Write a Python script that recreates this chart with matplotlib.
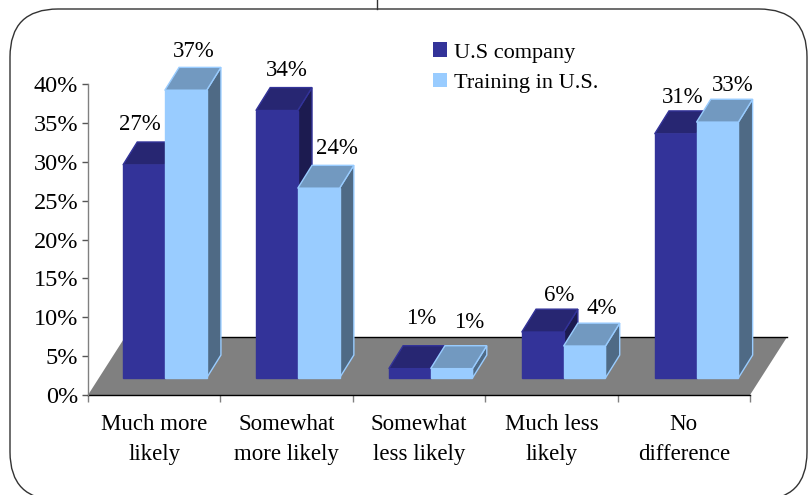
"""Grouped pseudo 3D bars, company vs training in the U.S."""

import matplotlib

matplotlib.use("Agg")
import matplotlib.pyplot as plt
from matplotlib.patches import FancyBboxPatch, Polygon, Patch

CATEGORIES = [
    "Much more\nlikely",
    "Somewhat\nmore likely",
    "Somewhat\nless likely",
    "Much less\nlikely",
    "No\ndifference",
]
# labels show them rounded
US_COMPANY = [27.4, 34.4, 1.2, 5.9, 31.4]
TRAINING_US = [37.0, 24.4, 1.2, 4.1, 32.9]
SERIES_NAMES = ["U.S company", "Training in U.S."]
Y_TICKS = [0, 5, 10, 15, 20, 25, 30, 35, 40]

W, H = 810, 495
AX_LEFT, AX_RIGHT, AX_BOTTOM, AX_TOP = 88, 750, 395, 84

# fake depth, category units / percent units
DEPTH_X = 0.108
DEPTH_Y = 2.95
BASE_Y = 2.19
BAR_START = 0.264
BAR_PITCH = 1.004
BAR_WIDTH = 0.316
FLOOR_X = 0.28
FLOOR_Y = 7.46

DARK = {"front": "#333399", "top": "#272672", "side": "#1c1b50", "edge": "#333399"}
LIGHT = {"front": "#99ccff", "top": "#7299c0", "side": "#4f6a85", "edge": "#99ccff"}

# label nudges from the bar's front-top centre, pixels
LABEL_DX = [[-4, 10, 11, 17, 7], [8, 18, 18, 17, 15]]
LABEL_DY = [[40, 40, 50, 37, 36], [39, 40, 46, 38, 37]]

SERIF = "Liberation Serif"
FONT_SIZE = 16
NUMBER_SIZE = 16.5
TICK_SIZE = 17.5


def draw_bar(ax, x, value, colors):
    """Draw one box: side, top, then front"""
    x0, x1 = x, x + BAR_WIDTH
    y0, y1 = BASE_Y, BASE_Y + value
    side = [(x1, y0), (x1 + DEPTH_X, y0 + DEPTH_Y), (x1 + DEPTH_X, y1 + DEPTH_Y), (x1, y1)]
    top = [(x0, y1), (x0 + DEPTH_X, y1 + DEPTH_Y), (x1 + DEPTH_X, y1 + DEPTH_Y), (x1, y1)]
    front = [(x0, y0), (x1, y0), (x1, y1), (x0, y1)]
    for points, face in [(side, colors["side"]), (top, colors["top"]), (front, colors["front"])]:
        ax.add_patch(
            Polygon(points, closed=True, facecolor=face, edgecolor=colors["edge"],
                    linewidth=1.0, joinstyle="miter", zorder=3, clip_on=False)
        )


def draw_frame(fig):
    """Rounded outer box and the small stub above it"""
    bg = fig.add_axes([0, 0, 1, 1], zorder=0)
    bg.set_xlim(0, W)
    bg.set_ylim(H, 0)
    bg.axis("off")
    bg.add_patch(
        FancyBboxPatch((58, 57), 701, 395, boxstyle="round,pad=48,rounding_size=48",
                       facecolor="white", edgecolor="#333333", linewidth=1.0)
    )
    bg.plot([377, 377], [0, 9], color="#333333", linewidth=1.0)


def main():
    plt.rcParams["font.family"] = [SERIF, "DejaVu Serif"]
    fig = plt.figure(figsize=(W / 100, H / 100), dpi=100, facecolor="white")
    draw_frame(fig)

    ax = fig.add_axes([AX_LEFT / W, 1 - AX_BOTTOM / H,
                       (AX_RIGHT - AX_LEFT) / W, (AX_BOTTOM - AX_TOP) / H], zorder=1)
    ax.patch.set_alpha(0)
    ax.set_xlim(0, len(CATEGORIES))
    ax.set_ylim(0, 40)

    # floor
    n = len(CATEGORIES)
    ax.add_patch(
        Polygon([(0, 0), (n, 0), (n + FLOOR_X, FLOOR_Y), (FLOOR_X, FLOOR_Y)],
                closed=True, facecolor="#808080", edgecolor="none", zorder=1, clip_on=False)
    )
    ax.plot([FLOOR_X, n + FLOOR_X], [FLOOR_Y, FLOOR_Y], color="black", linewidth=1.0,
            zorder=2, clip_on=False)

    for i in range(n):
        for s, (values, colors) in enumerate([(US_COMPANY, DARK), (TRAINING_US, LIGHT)]):
            x = i * BAR_PITCH + BAR_START + s * BAR_WIDTH
            draw_bar(ax, x, values[i], colors)
            ax.annotate(
                f"{values[i]:.0f}%",
                xy=(x + BAR_WIDTH / 2, BASE_Y + values[i]),
                xytext=(LABEL_DX[s][i], LABEL_DY[s][i]),
                textcoords="offset pixels",
                ha="center", va="center", fontsize=NUMBER_SIZE, color="black",
                zorder=5, annotation_clip=False,
            )

    for name in ["top", "right"]:
        ax.spines[name].set_visible(False)
    ax.spines["left"].set_color("#808080")
    ax.spines["left"].set_linewidth(1.0)
    ax.spines["bottom"].set_color("black")
    ax.spines["bottom"].set_linewidth(1.0)
    ax.spines["bottom"].set_zorder(2)

    ax.set_yticks(Y_TICKS)
    ax.set_yticklabels([f"{v}%" for v in Y_TICKS], fontsize=TICK_SIZE)
    ax.tick_params(axis="y", length=4, width=1.0, color="#555555", pad=3)

    ax.set_xticks(range(n + 1))
    ax.set_xticklabels([])
    ax.tick_params(axis="x", which="major", length=5, width=1.0, color="#808080")
    ax.set_xticks([i + 0.5 for i in range(n)], minor=True)
    ax.set_xticklabels(CATEGORIES, minor=True, fontsize=16.5, linespacing=1.55)
    ax.tick_params(axis="x", which="minor", length=0, pad=14)

    handles = [Patch(facecolor=DARK["front"]), Patch(facecolor=LIGHT["front"])]
    ax.legend(
        handles, SERIES_NAMES, frameon=False, fontsize=FONT_SIZE,
        loc="upper left", bbox_to_anchor=((433 - AX_LEFT) / (AX_RIGHT - AX_LEFT), 1.134),
        borderaxespad=0, borderpad=0, handlelength=0.65, handleheight=0.65,
        handletextpad=0.3, labelspacing=0.45,
    )

    fig.savefig("out.png", dpi=100, facecolor="white")


if __name__ == "__main__":
    main()
